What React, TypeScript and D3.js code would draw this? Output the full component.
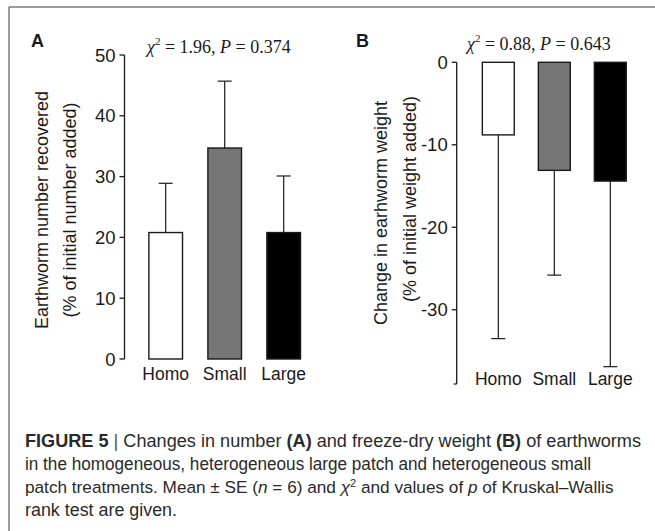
import React from "react";
import * as d3 from "d3";

const categories = ["Homo", "Small", "Large"];
const numberMeans = [20.8, 34.7, 20.8];
const numberSE = [8.1, 11.0, 9.3];
const weightMeans = [-8.8, -13.1, -14.4];
const weightSE = [24.7, 12.7, 22.5];
const barFills = ["#ffffff", "#767676", "#000000"];
const numberTicks = [0, 10, 20, 30, 40, 50];
const weightTicks = [0, -10, -20, -30];
const captionLines = [
  "in the homogeneous, heterogeneous large patch and heterogeneous small",
];

const W = 655;
const H = 531;
const FONT = "Arial, 'Liberation Sans', Helvetica, sans-serif";
const SERIF = "'Times New Roman', 'Liberation Serif', serif";
const INK = "#1a1a1a";

function Stat({ x, y, chi, p }: { x: number; y: number; chi: string; p: string }) {
  return (
    <text x={x} y={y} fontFamily={SERIF} fontSize={18} fill={INK}>
      <tspan fontStyle="italic">χ</tspan>
      <tspan fontSize={11} dy={-8}>2</tspan>
      <tspan dy={8}>{` = ${chi}, `}</tspan>
      <tspan fontStyle="italic">P</tspan>
      <tspan>{` = ${p}`}</tspan>
    </text>
  );
}

export default function App() {
  // Panel A scales
  const xA = d3.scaleBand<string>().domain(categories).range([136.2, 313.2]).paddingInner(0.43).paddingOuter(0.215);
  const yA = d3.scaleLinear().domain([0, 50]).range([359, 55]);
  const axA = 124.5;
  // Panel B scales
  const xB = d3.scaleBand<string>().domain(categories).range([470.3, 638.3]).paddingInner(0.43).paddingOuter(0.215);
  const yB = d3.scaleLinear().domain([0, -39]).range([62.3, 384]);
  const axB = 456.7;
  const cap = 7;

  return (
    <svg width={W} height={H} style={{ position: "absolute", left: 0, top: 0, background: "#fff" }}>
      <rect x={0} y={0} width={W} height={H} fill="#fff" />
      {/* frame */}
      <line x1={9} y1={7} x2={W} y2={7} stroke="#7a7a7a" strokeWidth={1.5} />
      <line x1={9} y1={7} x2={9} y2={H} stroke="#7a7a7a" strokeWidth={1.5} />

      {/* Panel A */}
      <text x={31} y={47} fontFamily={FONT} fontWeight="bold" fontSize={18} fill={INK}>A</text>
      <Stat x={147} y={53} chi="1.96" p="0.374" />
      <line x1={axA} x2={axA} y1={yA(0)} y2={yA(50)} stroke={INK} strokeWidth={1.3} />
      {numberTicks.map((t) => (
        <g key={"ta" + t}>
          <line x1={axA - 5} x2={axA} y1={yA(t)} y2={yA(t)} stroke={INK} strokeWidth={1.3} />
          <text x={axA - 9} y={yA(t)} dy="0.36em" textAnchor="end" fontFamily={FONT} fontSize={18.5} fill={INK}>{t}</text>
        </g>
      ))}
      {categories.map((c, i) => {
        const x0 = xA(c)!;
        const bw = xA.bandwidth();
        const cx = x0 + bw / 2;
        const top = numberMeans[i] + numberSE[i];
        return (
          <g key={"ba" + c}>
            <line x1={cx} x2={cx} y1={yA(numberMeans[i])} y2={yA(top)} stroke={INK} strokeWidth={1.2} />
            <line x1={cx - cap} x2={cx + cap} y1={yA(top)} y2={yA(top)} stroke={INK} strokeWidth={1.2} />
            <rect x={x0} y={yA(numberMeans[i])} width={bw} height={yA(0) - yA(numberMeans[i])} fill={barFills[i]} stroke={INK} strokeWidth={1.4} />
            <text x={cx} y={380} textAnchor="middle" fontFamily={FONT} fontSize={17.5} fill={INK}>{c}</text>
          </g>
        );
      })}
      <text transform="translate(42,210) rotate(-90)" textAnchor="middle" dominantBaseline="central" fontFamily={FONT} fontSize={18} fill={INK}>Earthworm number recovered</text>
      <text transform="translate(70,210) rotate(-90)" textAnchor="middle" dominantBaseline="central" fontFamily={FONT} fontSize={18} fill={INK}>(% of initial number added)</text>

      {/* Panel B */}
      <text x={356} y={47} fontFamily={FONT} fontWeight="bold" fontSize={18} fill={INK}>B</text>
      <Stat x={467} y={50} chi="0.88" p="0.643" />
      <line x1={axB} x2={axB} y1={yB(0)} y2={yB(-39)} stroke={INK} strokeWidth={1.3} />
      <line x1={axB - 3} x2={axB} y1={yB(-39)} y2={yB(-39)} stroke={INK} strokeWidth={1.3} />
      {weightTicks.map((t) => (
        <g key={"tb" + t}>
          <line x1={axB - 5} x2={axB} y1={yB(t)} y2={yB(t)} stroke={INK} strokeWidth={1.3} />
          <text x={axB - 9} y={yB(t)} dy="0.36em" textAnchor="end" fontFamily={FONT} fontSize={18.5} fill={INK}>{t}</text>
        </g>
      ))}
      {categories.map((c, i) => {
        const x0 = xB(c)!;
        const bw = xB.bandwidth();
        const cx = x0 + bw / 2;
        const bot = weightMeans[i] - weightSE[i];
        return (
          <g key={"bb" + c}>
            <line x1={cx} x2={cx} y1={yB(weightMeans[i])} y2={yB(bot)} stroke={INK} strokeWidth={1.2} />
            <line x1={cx - cap} x2={cx + cap} y1={yB(bot)} y2={yB(bot)} stroke={INK} strokeWidth={1.2} />
            <rect x={x0} y={yB(0)} width={bw} height={yB(weightMeans[i]) - yB(0)} fill={barFills[i]} stroke={INK} strokeWidth={1.4} />
            <text x={cx} y={385} textAnchor="middle" fontFamily={FONT} fontSize={17.5} fill={INK}>{c}</text>
          </g>
        );
      })}
      <text transform="translate(381,213) rotate(-90)" textAnchor="middle" dominantBaseline="central" fontFamily={FONT} fontSize={18} fill={INK}>Change in earhworm weight</text>
      <text transform="translate(410,199) rotate(-90)" textAnchor="middle" dominantBaseline="central" fontFamily={FONT} fontSize={18} fill={INK}>(% of initial weight added)</text>

      {/* Caption */}
      <g fontFamily={FONT} fontSize={17.5} fill="#2a2a2a">
        <text x={25} y={447} textLength={616} lengthAdjust="spacingAndGlyphs">
          <tspan fontWeight="bold">FIGURE 5</tspan>
          <tspan fill="#555">{"  |  "}</tspan>
          <tspan>Changes in number </tspan>
          <tspan fontWeight="bold">(A)</tspan>
          <tspan> and freeze-dry weight </tspan>
          <tspan fontWeight="bold">(B)</tspan>
          <tspan> of earthworms</tspan>
        </text>
        <text x={25} y={470} textLength={566} lengthAdjust="spacingAndGlyphs">{captionLines[0]}</text>
        <text x={25} y={493} fontSize={17.2}>
          <tspan>patch treatments. Mean ± SE (</tspan>
          <tspan fontStyle="italic">n</tspan>
          <tspan> = 6) and </tspan>
          <tspan fontStyle="italic">χ</tspan>
          <tspan fontSize={11} baselineShift="super">2</tspan>
          <tspan> and values of </tspan>
          <tspan fontStyle="italic">p</tspan>
          <tspan> of Kruskal–Wallis</tspan>
        </text>
        <text x={25} y={516} textLength={152} lengthAdjust="spacingAndGlyphs">rank test are given.</text>
      </g>
    </svg>
  );
}
